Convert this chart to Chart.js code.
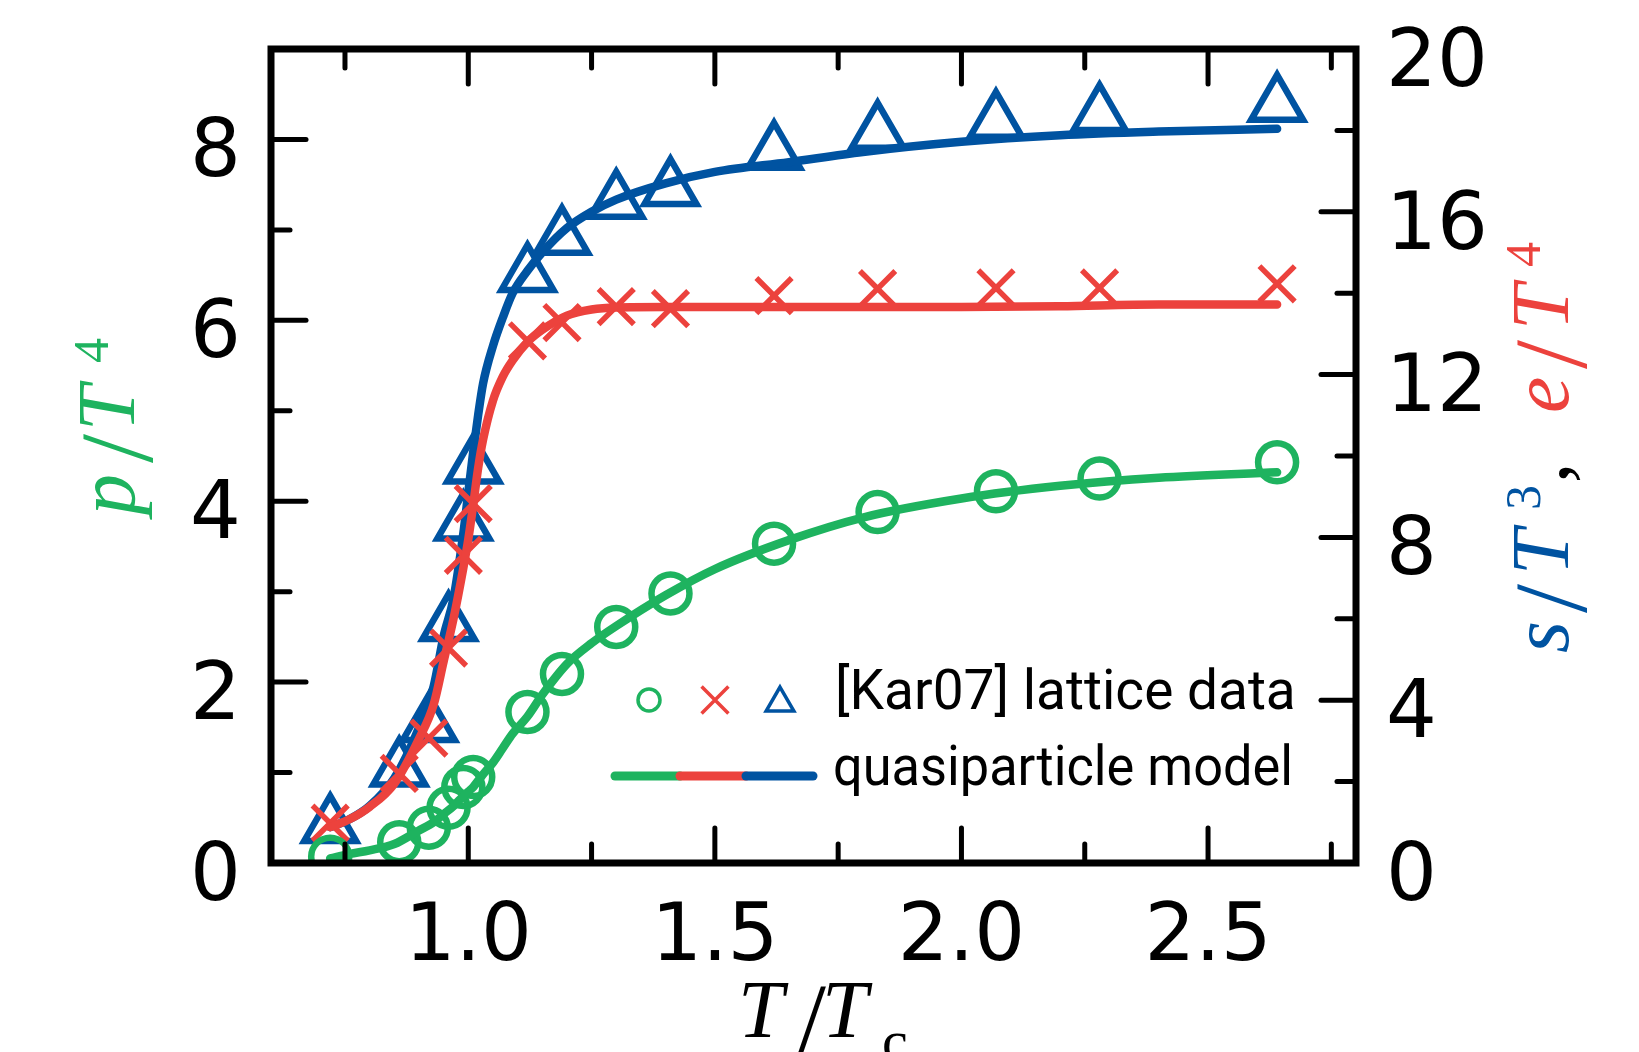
<!DOCTYPE html>
<html>
<head>
<meta charset="utf-8">
<title>Lattice data vs quasiparticle model</title>
<script src="https://cdn.jsdelivr.net/npm/chart.js@4.4.1/dist/chart.umd.min.js"></script>
<style>
  html, body { margin: 0; padding: 0; background: #fff; }
  #wrap { width: 1639px; height: 1052px; }
</style>
</head>
<body>
<div id="wrap"><canvas id="eos-chart" width="1639" height="1052"></canvas></div>
<script>
// [Kar07] lattice points, T/Tc
const latticeT = [0.72, 0.86, 0.92, 0.96, 0.99, 1.01, 1.12, 1.19, 1.30, 1.41, 1.62, 1.83, 2.07, 2.28, 2.64];
const latticePressure = [0.07, 0.23, 0.39, 0.61, 0.84, 0.95, 1.67, 2.09, 2.61, 2.98, 3.53, 3.88, 4.11, 4.25, 4.43]; // p/T^4
const latticeEnergy = [0.98, 2.2, 3.07, 5.28, 7.56, 8.83, 12.83, 13.28, 13.67, 13.62, 13.94, 14.11, 14.13, 14.13, 14.23]; // e/T^4
const latticeEntropy = [0.91, 2.3, 3.39, 5.87, 8.34, 9.74, 14.45, 15.36, 16.25, 16.56, 17.45, 17.94, 18.21, 18.38, 18.63]; // s/T^3

// quasiparticle model curves
const modelT = [0.72, 0.76, 0.80, 0.85, 0.90, 0.93, 0.95, 0.97, 0.99, 1.00, 1.01, 1.02, 1.03, 1.05, 1.07, 1.09,
  1.12, 1.15, 1.20, 1.25, 1.30, 1.40, 1.50, 1.65, 1.80, 2.00, 2.20, 2.40, 2.64];
const modelPressure = [0.05, 0.10, 0.14, 0.21, 0.36, 0.45, 0.54, 0.63, 0.74, 0.79, 0.84, 0.91, 0.98, 1.11, 1.27, 1.43,
  1.62, 1.86, 2.20, 2.43, 2.62, 2.96, 3.25, 3.57, 3.82, 4.03, 4.17, 4.26, 4.32];
const modelEnergy = [0.88, 1.08, 1.38, 1.95, 3.05, 3.9, 4.95, 6.0, 7.25, 7.95, 8.8, 9.7, 10.4, 11.36, 11.95, 12.35,
  12.8, 13.1, 13.45, 13.6, 13.65, 13.66, 13.66, 13.66, 13.66, 13.66, 13.68, 13.72, 13.72];
const modelEntropy = [0.88, 1.08, 1.40, 2.08, 3.32, 4.35, 5.57, 6.5, 8.1, 9.1, 10.1, 11.0, 11.78, 12.7, 13.4, 14.0,
  14.55, 15.0, 15.6, 16.0, 16.3, 16.7, 16.98, 17.22, 17.47, 17.72, 17.88, 17.97, 18.04];

// ticks
const xMajorTicks = [1.0, 1.5, 2.0, 2.5];
const xMinorTicks = [0.75, 1.25, 1.75, 2.25, 2.75];
const leftMajorTicks = [0, 2, 4, 6, 8];
const leftMinorTicks = [1, 3, 5, 7];
const rightMajorTicks = [0, 4, 8, 12, 16, 20];
const rightMinorTicks = [2, 6, 10, 14, 18];

const legendLabels = ['[Kar07] lattice data', 'quasiparticle model'];

const GREEN = '#1eb35f';
const RED = '#ec423d';
const BLUE = '#0053a1';
const TICK_FONT = { family: 'DejaVu Sans', size: 80, lineHeight: 1 };
const SERIF_IT = '"Liberation Serif", "DejaVu Serif", serif';

function toPoints(xs, ys) {
  return xs.map((x, i) => ({ x: x, y: ys[i] }));
}

// keep the plot box where the reference has it
function fixVertical(width) {
  return s => {
    s.width = width;
    s.paddingTop = 0;
    s.paddingBottom = 0;
  };
}

// inward tick marks on all four sides + the box
const frameAndTicks = {
  id: 'frameAndTicks',
  afterDatasetsDraw(chart) {
    const { ctx, chartArea: a, scales } = chart;
    const MAJOR = 35, MINOR = 19;
    ctx.save();
    ctx.strokeStyle = '#000';
    ctx.lineWidth = 5;
    ctx.lineCap = 'round';
    function seg(x1, y1, x2, y2) {
      ctx.beginPath(); ctx.moveTo(x1, y1); ctx.lineTo(x2, y2); ctx.stroke();
    }
    function xTicks(vals, len) {
      vals.forEach(v => {
        if (v <= scales.x.min || v >= scales.x.max) return;
        const px = scales.x.getPixelForValue(v);
        seg(px, a.bottom, px, a.bottom - len);
        seg(px, a.top, px, a.top + len);
      });
    }
    function yTicks(scale, vals, len, left) {
      vals.forEach(v => {
        if (v <= scale.min || v >= scale.max) return;
        const py = scale.getPixelForValue(v);
        if (left) seg(a.left, py, a.left + len, py);
        else seg(a.right, py, a.right - len, py);
      });
    }
    xTicks(xMajorTicks, MAJOR);
    xTicks(xMinorTicks, MINOR);
    yTicks(scales.yLeft, leftMajorTicks, MAJOR, true);
    yTicks(scales.yLeft, leftMinorTicks, MINOR, true);
    yTicks(scales.yRight, rightMajorTicks, MAJOR, false);
    yTicks(scales.yRight, rightMinorTicks, MINOR, false);

    ctx.lineWidth = 7;
    ctx.lineJoin = 'miter';
    ctx.strokeRect(a.left, a.top, a.right - a.left, a.bottom - a.top);
    ctx.restore();
  }
};

// rotated math-style titles, text read bottom to top
function drawRotated(ctx, baseX, startY, pieces) {
  ctx.save();
  ctx.translate(baseX, startY);
  ctx.rotate(-Math.PI / 2);
  ctx.textAlign = 'left';
  ctx.textBaseline = 'alphabetic';
  pieces.forEach(p => {
    ctx.font = p.font;
    ctx.fillStyle = p.color;
    ctx.fillText(p.text, p.u, -(p.rise || 0));
  });
  ctx.restore();
}

const titlesAndLegend = {
  id: 'titlesAndLegend',
  afterDraw(chart) {
    const ctx = chart.ctx;
    const it = 'italic 82px ' + SERIF_IT;
    const slash = '104px ' + SERIF_IT;
    const sup = '50px ' + SERIF_IT;

    // left: p/T^4
    drawRotated(ctx, 134, 515, [
      { text: 'p', u: 0, font: it, color: GREEN },
      { text: '/', u: 52, font: slash, color: GREEN, rise: -18 },
      { text: 'T', u: 84, font: it, color: GREEN },
      { text: '4', u: 152, font: sup, color: GREEN, rise: 26 }
    ]);

    // right: s/T^3 , e/T^4
    drawRotated(ctx, 1568, 653, [
      { text: 's', u: 0, font: it, color: BLUE },
      { text: '/', u: 40, font: slash, color: BLUE, rise: -18 },
      { text: 'T', u: 78, font: it, color: BLUE },
      { text: '3', u: 143, font: sup, color: BLUE, rise: 28 },
      { text: ',', u: 170, font: '82px ' + SERIF_IT, color: '#000' },
      { text: 'e', u: 240, font: it, color: RED },
      { text: '/', u: 284, font: slash, color: RED, rise: -18 },
      { text: 'T', u: 323, font: it, color: RED },
      { text: '4', u: 386, font: sup, color: RED, rise: 28 }
    ]);

    // bottom: T/T_c
    ctx.save();
    ctx.textAlign = 'left';
    ctx.textBaseline = 'alphabetic';
    ctx.fillStyle = '#000';
    ctx.font = it; ctx.fillText('T', 738, 1037);
    ctx.font = slash; ctx.fillText('/', 797, 1055);
    ctx.font = it; ctx.fillText('T', 822, 1037);
    ctx.font = '58px ' + SERIF_IT; ctx.fillText('c', 882, 1060);
    ctx.restore();

    // legend
    ctx.save();
    const drawPoint = Chart.helpers && Chart.helpers.drawPoint;
    const markers = [
      { style: 'circle', x: 649, y: 700, r: 11, color: GREEN },
      { style: 'crossRot', x: 715, y: 700, r: 19, color: RED },
      { style: 'triangle', x: 780, y: 703, r: 16, color: BLUE }
    ];
    markers.forEach(m => {
      ctx.strokeStyle = m.color;
      ctx.fillStyle = 'rgba(0,0,0,0)';
      ctx.lineWidth = 3.5;
      if (drawPoint) drawPoint(ctx, { pointStyle: m.style, radius: m.r, borderWidth: 3.5, rotation: 0 }, m.x, m.y);
    });
    ctx.lineWidth = 9;
    ctx.lineCap = 'round';
    [[GREEN, 615, 680], [RED, 680, 746], [BLUE, 746, 813]].forEach(([c, x1, x2]) => {
      ctx.strokeStyle = c;
      ctx.beginPath(); ctx.moveTo(x1, 776); ctx.lineTo(x2, 776); ctx.stroke();
    });
    ctx.fillStyle = '#000';
    ctx.font = '55px Roboto, "DejaVu Sans", sans-serif';
    ctx.textAlign = 'left';
    ctx.textBaseline = 'alphabetic';
    ctx.fillText(legendLabels[0], 835, 709, 462);
    ctx.fillText(legendLabels[1], 833, 785, 460);
    ctx.restore();
  }
};

const lineStyle = {
  type: 'line', showLine: true, borderWidth: 8.5, pointRadius: 0, pointHoverRadius: 0,
  cubicInterpolationMode: 'monotone', borderCapStyle: 'round', borderJoinStyle: 'round', fill: false
};
const markerStyle = {
  type: 'line', showLine: false, pointBackgroundColor: 'rgba(0,0,0,0)', pointHoverRadius: 0
};

new Chart(document.getElementById('eos-chart'), {
  type: 'line',
  data: {
    datasets: [
      Object.assign({}, lineStyle, {
        label: 'p/T^4 model', data: toPoints(modelT, modelPressure), yAxisID: 'yLeft', borderColor: GREEN, order: 1
      }),
      Object.assign({}, markerStyle, {
        label: 'p/T^4 lattice', data: toPoints(latticeT, latticePressure), yAxisID: 'yLeft',
        pointStyle: 'circle', pointRadius: 19, pointBorderWidth: 6.5, pointBorderColor: GREEN, order: 2
      }),
      Object.assign({}, lineStyle, {
        label: 'e/T^4 model', data: toPoints(modelT, modelEnergy), yAxisID: 'yRight', borderColor: RED, order: 3
      }),
      Object.assign({}, markerStyle, {
        label: 'e/T^4 lattice', data: toPoints(latticeT, latticeEnergy), yAxisID: 'yRight',
        pointStyle: 'crossRot', pointRadius: 25, pointBorderWidth: 5.5, pointBorderColor: RED, order: 4
      }),
      Object.assign({}, lineStyle, {
        label: 's/T^3 model', data: toPoints(modelT, modelEntropy), yAxisID: 'yRight', borderColor: BLUE, order: 5
      }),
      Object.assign({}, markerStyle, {
        label: 's/T^3 lattice', data: toPoints(latticeT, latticeEntropy), yAxisID: 'yRight',
        pointStyle: 'triangle', pointRadius: 30, pointBorderWidth: 6.5, pointBorderColor: BLUE, order: 6
      })
    ]
  },
  options: {
    responsive: false,
    animation: false,
    devicePixelRatio: 1,
    layout: { padding: { top: 49, left: 0, right: 0, bottom: 0 } },
    plugins: { legend: { display: false }, tooltip: { enabled: false } },
    events: [],
    scales: {
      x: {
        type: 'linear', position: 'bottom', min: 0.6, max: 2.8,
        grid: { display: false, drawTicks: false, tickLength: 0 },
        border: { display: false },
        afterBuildTicks: s => { s.ticks = xMajorTicks.map(v => ({ value: v })); },
        afterFit: s => { s.height = 1052 - 863; s.paddingLeft = 0; s.paddingRight = 0; },
        ticks: {
          font: TICK_FONT, color: '#000', padding: 36, maxRotation: 0, autoSkip: false,
          callback: v => Number(v).toFixed(1)
        }
      },
      yLeft: {
        type: 'linear', position: 'left', min: 0, max: 9,
        grid: { display: false, drawTicks: false, tickLength: 0 },
        border: { display: false },
        afterBuildTicks: s => { s.ticks = leftMajorTicks.map(v => ({ value: v })); },
        afterFit: fixVertical(271),
        ticks: { font: TICK_FONT, color: '#000', padding: 30, labelOffset: 16, autoSkip: false }
      },
      yRight: {
        type: 'linear', position: 'right', min: 0, max: 20,
        grid: { display: false, drawTicks: false, tickLength: 0 },
        border: { display: false },
        afterBuildTicks: s => { s.ticks = rightMajorTicks.map(v => ({ value: v })); },
        afterFit: fixVertical(1639 - 1356),
        ticks: { font: TICK_FONT, color: '#000', padding: 30, labelOffset: 16, autoSkip: false }
      }
    }
  },
  plugins: [frameAndTicks, titlesAndLegend]
});
</script>
</body>
</html>
